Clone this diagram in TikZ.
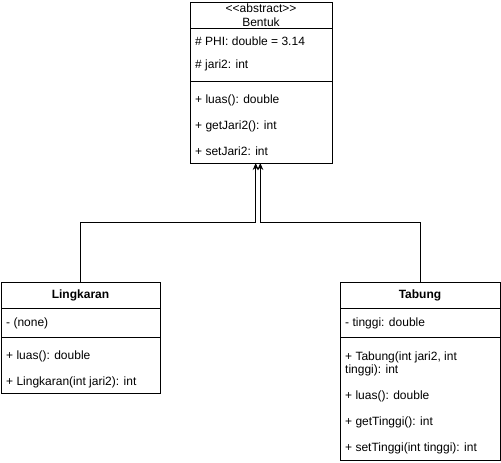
\documentclass[tikz,border=0pt]{standalone}
\usepackage{fontspec}
\setmainfont{Liberation Sans}
\usetikzlibrary{arrows.meta, positioning}
\tikzset{
  x=1pt, y=-1pt, % one unit is one pixel, y runs downward
  compart/.style={draw, line width=1pt, rectangle, inner sep=0pt, outer sep=0pt,
    anchor=north west}, % one part of a class box
  member/.style={anchor=base west, inner sep=0pt}, % attribute or method line
  inherit/.style={line width=1pt, -{Stealth[length=7pt, width=6pt]}}, % generalisation
}

\begin{document}
\begin{tikzpicture}[font=\fontsize{12}{14}\selectfont]
    \useasboundingbox (0,0) rectangle (501,463);

    % abstract parent class
    \node[compart, minimum width=142pt, minimum height=26.5pt, align=center] (bentuk) at (190,2) {<{}<abstract>{}>\\Bentuk};
    \node[compart, minimum width=142pt, minimum height=52.5pt] (bentukattr) at (bentuk.south west) {};
    \node[compart, minimum width=142pt, minimum height=82pt] (bentukops) at (bentukattr.south west) {};
    \node[member] (phi) at (195,45.3) {\# PHI: double = 3.14};
    \node[member] (jari) at (195,68.5) {\# jari2: int};
    \node[member] (luasb) at (195,103.3) {+ luas(): double};
    \node[member] (getjari) at (195,129.3) {+ getJari2(): int};
    \node[member] (setjari) at (195,155.5) {+ setJari2: int};

    % left child
    \node[compart, minimum width=159pt, minimum height=26pt, font=\fontsize{12}{14}\selectfont\bfseries] (lingkaran) at (1,282) {Lingkaran};
    \node[compart, minimum width=159pt, minimum height=29pt] (lingkaranattr) at (lingkaran.south west) {};
    \node[compart, minimum width=159pt, minimum height=56pt] (lingkaranops) at (lingkaranattr.south west) {};
    \node[member] (none) at (6,326.8) {- (none)};
    \node[member] (luasl) at (6,359.3) {+ luas(): double};
    \node[member] (konsl) at (6,385.3) {+ Lingkaran(int jari2): int};

    % right child
    \node[compart, minimum width=160pt, minimum height=26pt, font=\fontsize{12}{14}\selectfont\bfseries] (tabung) at (340,282) {Tabung};
    \node[compart, minimum width=160pt, minimum height=29pt] (tabungattr) at (tabung.south west) {};
    \node[compart, minimum width=160pt, minimum height=123pt] (tabungops) at (tabungattr.south west) {};
    \node[member] (tinggi) at (345,326.8) {- tinggi: double};
    \node[member, align=left, font=\fontsize{12}{13}\selectfont] (konst) at (345,373.3) {+ Tabung(int jari2, int\\tinggi): int};
    \node[member] (luast) at (345,399.3) {+ luas(): double};
    \node[member] (gettinggi) at (345,425.3) {+ getTinggi(): int};
    \node[member] (settinggi) at (345,451.3) {+ setTinggi(int tinggi): int};

    \coordinate (joinL) at (255.7,222);
    \coordinate (joinR) at (260.3,222);

    \draw[inherit] (lingkaran.north) |- (joinL) -- (joinL |- bentukops.south);
    \draw[inherit] (tabung.north) |- (joinR) -- (joinR |- bentukops.south);

\end{tikzpicture}
\end{document}
